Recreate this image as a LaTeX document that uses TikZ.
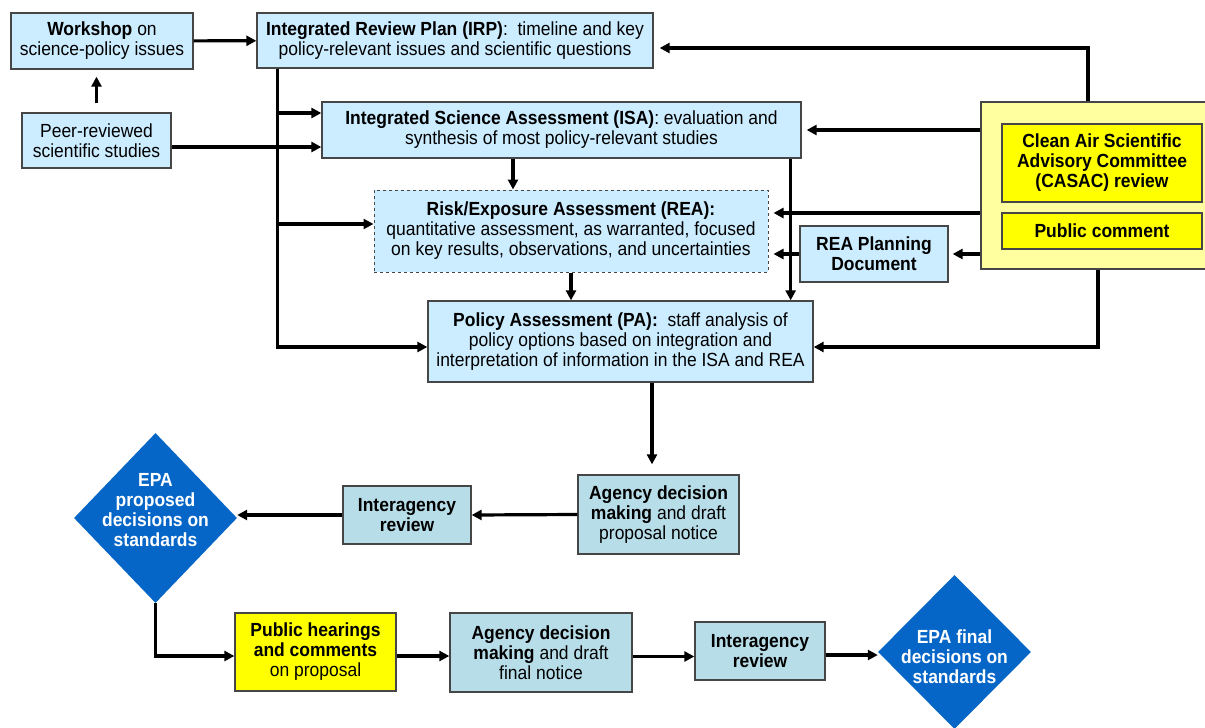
\documentclass[tikz,border=0pt]{standalone}
\usepackage{fontspec}
\setmainfont{Liberation Sans}[FakeStretch=0.92]
\usetikzlibrary{arrows.meta,shapes.geometric}
\definecolor{boxblue}{RGB}{204,236,255}
\definecolor{boxteal}{RGB}{183,221,232}
\definecolor{boxyellow}{RGB}{255,255,0}
\definecolor{paleyellow}{RGB}{255,255,160}
\definecolor{epablue}{RGB}{5,102,200}
\definecolor{edgegray}{RGB}{70,70,70}
\begin{document}
\begin{tikzpicture}[x=1pt, y=-1pt,
    every node/.style={font=\fontsize{19}{20}\selectfont, align=center, inner sep=0pt},
    box/.style={draw=edgegray, line width=1.3pt, fill=boxblue},
    tealbox/.style={box, fill=boxteal},
    yellowbox/.style={box, fill=boxyellow},
    epa/.style={diamond, fill=epablue, inner sep=0pt},
    epatext/.style={text=white, font=\fontsize{19}{20}\selectfont\bfseries},
    arr/.style={line width=3.2pt, -{Triangle[length=10pt,width=10pt]}}]
  \useasboundingbox[fill=white] (0,0) rectangle (1205,728);
  % top part
  \node [box, minimum width=182pt, minimum height=56pt] (workshop) at (102,41) {\textbf{Workshop} on\\science-policy issues};
  \node [box, minimum width=149pt, minimum height=55pt] (peer) at (96.5,140.5) {Peer-reviewed\\scientific studies};
  \node [box, minimum width=396pt, minimum height=55pt] (irp) at (455,40.5) {\textbf{Integrated Review Plan (IRP)}:~ timeline and key\\policy-relevant issues and scientific questions};
  \node [box, minimum width=479pt, minimum height=56pt] (isa) at (561.5,130) {\textbf{Integrated Science Assessment (ISA)}: evaluation and\\synthesis of most policy-relevant studies};
  \node [box, dashed, line width=1pt, minimum width=394pt, minimum height=82pt] (rea) at (571,231) {\textbf{Risk/Exposure Assessment (REA):}\\quantitative assessment, as warranted, focused\\on key results, observations, and uncertainties};
  \node [box, minimum width=148pt, minimum height=56pt] (reaplan) at (874,254) {\textbf{REA Planning}\\\textbf{Document}};
  \node [box, minimum width=385pt, minimum height=81pt] (pa) at (620.5,341.5) {\textbf{Policy Assessment (PA):}~ staff analysis of\\policy options based on integration and\\interpretation of information in the ISA and REA};
  % review and comment
  \node [box, fill=paleyellow, minimum width=229pt, minimum height=167pt] (casacbg) at (1095.5,185.5) {};
  \node [yellowbox, minimum width=200pt, minimum height=78pt] (casac) at (1102,163) {\textbf{Clean Air Scientific}\\\textbf{Advisory Committee}\\\textbf{(CASAC) review}};
  \node [yellowbox, minimum width=200pt, minimum height=36pt] (pubcom) at (1102,231) {\textbf{Public comment}};
  % decision steps
  \node [tealbox, minimum width=161pt, minimum height=79pt] (agency1) at (658.5,514.5) {\textbf{Agency decision}\\\textbf{making} and draft\\proposal notice};
  \node [tealbox, minimum width=128pt, minimum height=58pt] (inter1) at (407,515) {\textbf{Interagency}\\\textbf{review}};
  \node [epa, minimum width=163pt, minimum height=170pt, label={[epatext, yshift=8pt]center:EPA\\proposed\\decisions on\\standards}] (epa1) at (155.5,518) {};
  \node [yellowbox, minimum width=161pt, minimum height=78pt] (hearing) at (315.5,652) {\textbf{Public hearings}\\\textbf{and comments}\\on proposal};
  \node [tealbox, minimum width=182pt, minimum height=79pt] (agency2) at (541,652.5) {\textbf{Agency decision}\\\textbf{making} and draft\\final notice};
  \node [tealbox, minimum width=130pt, minimum height=58pt] (inter2) at (760,651) {\textbf{Interagency}\\\textbf{review}};
  \node [epa, minimum width=153pt, minimum height=154pt, label={[epatext, yshift=-5pt]center:EPA final\\decisions on\\standards}] (epa2) at (954.5,652) {};
  % connectors
  \coordinate (irpdown) at ([xshift=21pt]irp.south west);
  \coordinate (reain) at ([yshift=18pt]rea.east);
  \draw [arr] (workshop) -- (irp);
  \draw [arr, shorten <=9pt, shorten >=7pt] (peer.north) -- (peer.north |- workshop.south);
  \draw [arr] ([yshift=-6.5pt]peer.east) -- ([yshift=-17pt]isa.west);
  \draw [arr] (irpdown) |- ([yshift=17pt]isa.west);
  \draw [arr] (irpdown) |- ([yshift=7pt]rea.west);
  \draw [arr] (irpdown) |- ([yshift=-5.5pt]pa.west);
  \draw [arr] ([xshift=-48.5pt]isa.south) -- ([xshift=-48.5pt]isa.south |- rea.north);
  \draw [arr] ([xshift=-11pt]isa.south east) -- ([xshift=-11pt]isa.south east |- pa.north);
  \draw [arr] (rea.south) -- (rea.south |- pa.north);
  \draw [arr, shorten >=6pt] ([xshift=-7.5pt]casacbg.north) |- ([yshift=-7.5pt]irp.east);
  \draw [arr, shorten >=5pt] (casacbg.west |- isa.east) -- (isa.east);
  \draw [arr, shorten >=5pt] (casacbg.west |- reain) -- (reain);
  \draw [arr, shorten >=4pt] (casacbg.west |- reaplan.east) -- (reaplan.east);
  \draw [arr, shorten >=5pt] (reaplan.west) -- (reaplan.west -| rea.east);
  \draw [arr] ([xshift=2.5pt]casacbg.south) |- ([yshift=-5.5pt]pa.east);
  \draw [arr, shorten >=10pt] ([xshift=-6.5pt]agency1.north |- pa.south) -- ([xshift=-6.5pt]agency1.north);
  \draw [arr] (agency1.west) -- (inter1.east);
  \draw [arr] (inter1.west) -- (inter1.west -| epa1.east);
  \draw [arr] (epa1.south) |- ([yshift=-4pt]hearing.west);
  \draw [arr] ([yshift=-4pt]hearing.east) -- ([yshift=-4pt]hearing.east -| agency2.west);
  \draw [arr] ([yshift=-4pt]agency2.east) -- ([yshift=-4pt]agency2.east -| inter2.west);
  \draw [arr] ([yshift=-4pt]inter2.east) -- ([yshift=-4pt]inter2.east -| epa2.west);
\end{tikzpicture}
\end{document}
